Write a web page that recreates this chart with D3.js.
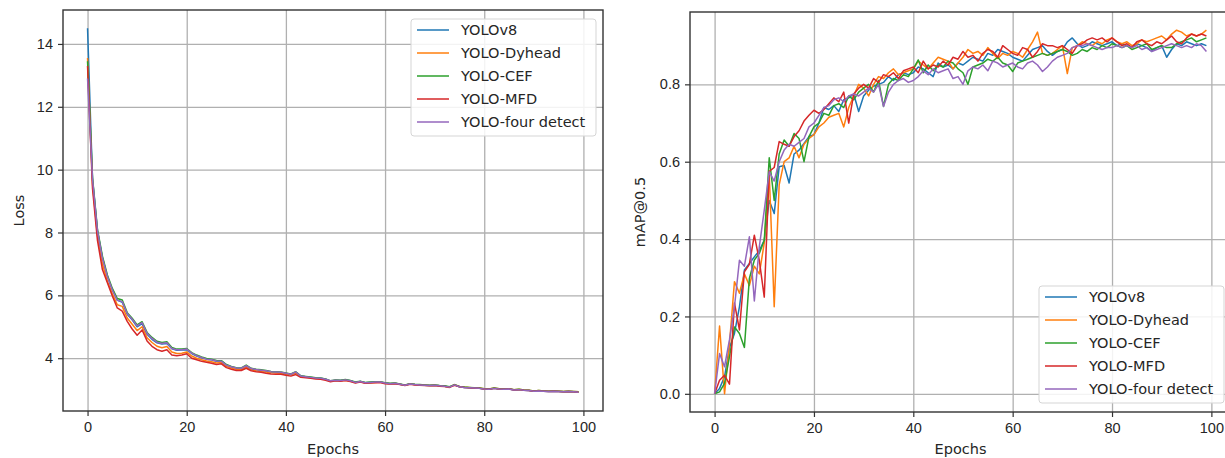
<!DOCTYPE html>
<html>
<head>
<meta charset="utf-8">
<script src="https://cdn.jsdelivr.net/npm/d3@7"></script>
<style>
  body { margin: 0; background: #fff; }
  svg { display: block; font-family: "DejaVu Sans", sans-serif; }
  .grid line { stroke: #b0b0b0; stroke-width: 1.3; }
  .grid path { display: none; }
  .axis text { font-size: 14.5px; fill: #262626; }
  .axis line { stroke: #333; stroke-width: 1.2; }
  .axis path { display: none; }
  .label { font-size: 14.5px; fill: #262626; }
</style>
</head>
<body>
<div id="chart"></div>
<script>
var epochs = d3.range(0, 100);
var names = ["YOLOv8", "YOLO-Dyhead", "YOLO-CEF", "YOLO-MFD", "YOLO-four detect"];
var colors = ["#1f77b4", "#ff7f0e", "#2ca02c", "#d62728", "#9467bd"];
var xTicks = [0, 20, 40, 60, 80, 100];
var lossTicks = [4, 6, 8, 10, 12, 14];
var mapTicks = [0.0, 0.2, 0.4, 0.6, 0.8];

// loss per epoch
var lossV8 = [14.5, 9.7, 8.05, 7.2, 6.6, 6.18, 5.85, 5.78, 5.4, 5.22, 5.0, 5.1, 4.76, 4.6, 4.49, 4.45, 4.47, 4.3, 4.25, 4.26,
  4.27, 4.15, 4.07, 4.01, 3.97, 3.95, 3.9, 3.9, 3.78, 3.72, 3.68, 3.67, 3.75, 3.66, 3.63, 3.61, 3.59, 3.56, 3.55, 3.54,
  3.51, 3.48, 3.55, 3.43, 3.41, 3.39, 3.37, 3.36, 3.33, 3.27, 3.3, 3.29, 3.31, 3.28, 3.23, 3.26, 3.22, 3.23, 3.24, 3.24,
  3.21, 3.19, 3.2, 3.17, 3.14, 3.18, 3.16, 3.15, 3.14, 3.13, 3.14, 3.12, 3.11, 3.08, 3.15, 3.09, 3.07, 3.06, 3.05, 3.04,
  3.02, 3.01, 3.04, 3.02, 3.01, 3.02, 2.99, 3.0, 2.98, 2.97, 2.95, 2.96, 2.95, 2.94, 2.95, 2.94, 2.93, 2.94, 2.93, 2.92];
var lossDyhead = [13.55, 9.55, 7.9, 7.0, 6.45, 6.05, 5.7, 5.65, 5.28, 5.08, 4.88, 5.0, 4.65, 4.5, 4.38, 4.33, 4.37, 4.2, 4.15, 4.16,
  4.2, 4.07, 4.0, 3.95, 3.91, 3.89, 3.85, 3.86, 3.74, 3.69, 3.65, 3.64, 3.72, 3.63, 3.6, 3.58, 3.56, 3.54, 3.53, 3.52,
  3.49, 3.47, 3.53, 3.42, 3.4, 3.38, 3.36, 3.35, 3.32, 3.27, 3.29, 3.28, 3.3, 3.27, 3.23, 3.25, 3.21, 3.22, 3.23, 3.24,
  3.2, 3.19, 3.2, 3.17, 3.14, 3.18, 3.16, 3.15, 3.14, 3.13, 3.14, 3.12, 3.11, 3.08, 3.16, 3.1, 3.08, 3.07, 3.05, 3.05,
  3.03, 3.02, 3.05, 3.03, 3.02, 3.03, 3.0, 3.01, 2.99, 2.98, 2.96, 2.97, 2.96, 2.95, 2.96, 2.95, 2.94, 2.95, 2.94, 2.93];
var lossCEF = [13.45, 9.75, 8.1, 7.25, 6.65, 6.22, 5.9, 5.85, 5.45, 5.27, 5.06, 5.16, 4.82, 4.66, 4.54, 4.5, 4.52, 4.34, 4.29, 4.29,
  4.31, 4.18, 4.1, 4.04, 3.99, 3.97, 3.93, 3.92, 3.8, 3.74, 3.7, 3.69, 3.78, 3.68, 3.65, 3.63, 3.61, 3.58, 3.57, 3.56,
  3.53, 3.5, 3.57, 3.44, 3.42, 3.4, 3.38, 3.37, 3.34, 3.28, 3.31, 3.3, 3.32, 3.29, 3.24, 3.27, 3.23, 3.24, 3.25, 3.25,
  3.22, 3.2, 3.21, 3.18, 3.15, 3.19, 3.17, 3.16, 3.15, 3.14, 3.15, 3.13, 3.12, 3.09, 3.16, 3.1, 3.08, 3.07, 3.06, 3.05,
  3.03, 3.02, 3.05, 3.03, 3.02, 3.03, 3.0, 3.01, 2.99, 2.98, 2.96, 2.97, 2.96, 2.95, 2.96, 2.95, 2.94, 2.95, 2.94, 2.93];
var lossMFD = [13.3, 9.4, 7.75, 6.82, 6.4, 5.98, 5.6, 5.5, 5.17, 4.93, 4.73, 4.9, 4.55, 4.38, 4.27, 4.22, 4.27, 4.1, 4.08, 4.1,
  4.14, 4.0, 3.95, 3.9, 3.87, 3.84, 3.8, 3.82, 3.7, 3.65, 3.61, 3.61, 3.68, 3.6, 3.57, 3.55, 3.52, 3.5, 3.49, 3.49,
  3.46, 3.43, 3.48, 3.39, 3.38, 3.36, 3.34, 3.33, 3.3, 3.25, 3.28, 3.27, 3.29, 3.26, 3.21, 3.24, 3.2, 3.21, 3.22, 3.23,
  3.19, 3.18, 3.19, 3.16, 3.13, 3.17, 3.15, 3.14, 3.13, 3.12, 3.13, 3.11, 3.1, 3.07, 3.14, 3.09, 3.07, 3.06, 3.04, 3.04,
  3.02, 3.01, 3.04, 3.02, 3.01, 3.02, 2.99, 3.0, 2.98, 2.97, 2.95, 2.96, 2.95, 2.94, 2.95, 2.94, 2.93, 2.94, 2.93, 2.92];
var lossFour = [12.9, 9.7, 8.05, 7.18, 6.6, 6.17, 5.84, 5.8, 5.42, 5.24, 5.03, 5.13, 4.79, 4.63, 4.51, 4.47, 4.49, 4.31, 4.27, 4.27,
  4.29, 4.16, 4.08, 4.02, 3.97, 3.95, 3.91, 3.9, 3.78, 3.73, 3.69, 3.68, 3.76, 3.67, 3.64, 3.62, 3.6, 3.57, 3.56, 3.55,
  3.52, 3.49, 3.56, 3.43, 3.41, 3.39, 3.37, 3.36, 3.33, 3.28, 3.3, 3.29, 3.31, 3.28, 3.23, 3.26, 3.22, 3.23, 3.24, 3.24,
  3.21, 3.19, 3.2, 3.17, 3.14, 3.18, 3.16, 3.15, 3.14, 3.13, 3.14, 3.12, 3.11, 3.08, 3.15, 3.09, 3.07, 3.06, 3.05, 3.04,
  3.02, 3.01, 3.04, 3.02, 3.01, 3.02, 2.99, 3.0, 2.98, 2.97, 2.95, 2.96, 2.95, 2.94, 2.95, 2.94, 2.93, 2.94, 2.93, 2.92];

// mAP@0.5 per epoch
var mapV8 = [0, 0.014, 0.044, 0.12, 0.156, 0.225, 0.32, 0.337, 0.354, 0.37, 0.397, 0.5, 0.466, 0.587, 0.59, 0.545, 0.62, 0.63, 0.647, 0.665,
  0.67, 0.7, 0.74, 0.735, 0.745, 0.73, 0.76, 0.765, 0.775, 0.73, 0.77, 0.785, 0.795, 0.8, 0.805, 0.82, 0.81, 0.825, 0.83, 0.825,
  0.83, 0.845, 0.84, 0.83, 0.82, 0.855, 0.845, 0.85, 0.84, 0.855, 0.85, 0.86, 0.87, 0.865, 0.86, 0.88, 0.875, 0.89, 0.885, 0.88,
  0.87, 0.865, 0.86, 0.875, 0.89, 0.895, 0.9, 0.885, 0.875, 0.885, 0.89, 0.91, 0.92, 0.905, 0.895, 0.9, 0.91, 0.905, 0.9, 0.905,
  0.91, 0.9, 0.905, 0.9, 0.895, 0.905, 0.9, 0.895, 0.885, 0.895, 0.9, 0.87, 0.89, 0.905, 0.9, 0.91, 0.905, 0.9, 0.905, 0.9];
var mapDyhead = [0, 0.175, 0.0, 0.13, 0.29, 0.26, 0.31, 0.28, 0.33, 0.31, 0.39, 0.57, 0.225, 0.54, 0.6, 0.61, 0.64, 0.61, 0.645, 0.66,
  0.67, 0.69, 0.7, 0.715, 0.72, 0.725, 0.69, 0.74, 0.77, 0.8, 0.79, 0.77, 0.8, 0.82, 0.815, 0.83, 0.84, 0.825, 0.83, 0.835,
  0.84, 0.86, 0.85, 0.84, 0.855, 0.87, 0.865, 0.86, 0.84, 0.855, 0.87, 0.89, 0.88, 0.885, 0.875, 0.895, 0.88, 0.867, 0.88, 0.875,
  0.885, 0.88, 0.87, 0.89, 0.91, 0.935, 0.88, 0.875, 0.88, 0.89, 0.9, 0.828, 0.895, 0.9, 0.91, 0.905, 0.9, 0.91, 0.905, 0.915,
  0.92, 0.91, 0.905, 0.91, 0.9, 0.905, 0.915, 0.91, 0.915, 0.92, 0.925, 0.915, 0.93, 0.94, 0.935, 0.925, 0.93, 0.925, 0.93, 0.94];
var mapCEF = [0, 0.005, 0.027, 0.096, 0.173, 0.156, 0.12, 0.298, 0.346, 0.363, 0.397, 0.61, 0.5, 0.62, 0.656, 0.64, 0.673, 0.66, 0.6, 0.665,
  0.69, 0.7, 0.725, 0.72, 0.745, 0.75, 0.74, 0.77, 0.76, 0.78, 0.79, 0.8, 0.78, 0.81, 0.743, 0.8, 0.815, 0.81, 0.825, 0.82,
  0.84, 0.863, 0.83, 0.85, 0.835, 0.85, 0.845, 0.86, 0.855, 0.84, 0.83, 0.8, 0.845, 0.85, 0.855, 0.865, 0.86, 0.87, 0.855, 0.85,
  0.833, 0.855, 0.86, 0.865, 0.87, 0.875, 0.88, 0.875, 0.88, 0.885, 0.89, 0.885, 0.875, 0.88, 0.89, 0.885, 0.895, 0.89, 0.9, 0.895,
  0.905, 0.9, 0.895, 0.9, 0.89, 0.895, 0.9, 0.905, 0.89, 0.895, 0.9, 0.895, 0.895, 0.905, 0.91, 0.915, 0.92, 0.91, 0.915, 0.92];
var mapMFD = [0, 0.035, 0.048, 0.025, 0.235, 0.165, 0.315, 0.335, 0.41, 0.345, 0.25, 0.575, 0.585, 0.652, 0.645, 0.64, 0.665, 0.68, 0.705, 0.72,
  0.733, 0.725, 0.735, 0.75, 0.765, 0.755, 0.78, 0.7, 0.775, 0.79, 0.8, 0.79, 0.815, 0.805, 0.825, 0.82, 0.83, 0.815, 0.835, 0.84,
  0.845, 0.83, 0.86, 0.84, 0.85, 0.845, 0.86, 0.85, 0.87, 0.865, 0.885, 0.87, 0.875, 0.86, 0.88, 0.89, 0.885, 0.87, 0.9, 0.89,
  0.88, 0.875, 0.895, 0.89, 0.87, 0.885, 0.905, 0.9, 0.9, 0.895, 0.9, 0.89, 0.88, 0.9, 0.905, 0.915, 0.92, 0.915, 0.92, 0.91,
  0.92, 0.91, 0.9, 0.905, 0.895, 0.91, 0.915, 0.905, 0.9, 0.91, 0.905, 0.915, 0.925, 0.91, 0.905, 0.92, 0.93, 0.925, 0.93, 0.925];
var mapFour = [0, 0.104, 0.07, 0.14, 0.225, 0.345, 0.33, 0.406, 0.24, 0.38, 0.475, 0.574, 0.55, 0.6, 0.63, 0.645, 0.64, 0.65, 0.66, 0.69,
  0.7, 0.72, 0.74, 0.745, 0.76, 0.765, 0.755, 0.77, 0.775, 0.77, 0.78, 0.79, 0.78, 0.8, 0.743, 0.78, 0.8, 0.81, 0.815, 0.805,
  0.81, 0.82, 0.835, 0.825, 0.84, 0.83, 0.835, 0.84, 0.815, 0.82, 0.8, 0.835, 0.845, 0.84, 0.85, 0.835, 0.86, 0.855, 0.845, 0.85,
  0.855, 0.845, 0.84, 0.855, 0.86, 0.85, 0.833, 0.845, 0.86, 0.87, 0.875, 0.88, 0.895, 0.9, 0.9, 0.905, 0.9, 0.895, 0.89, 0.895,
  0.895, 0.9, 0.895, 0.9, 0.895, 0.9, 0.89, 0.895, 0.885, 0.89, 0.895, 0.9, 0.905, 0.9, 0.895, 0.9, 0.895, 0.905, 0.9, 0.885];

var lossSeries = [lossV8, lossDyhead, lossCEF, lossMFD, lossFour];
var mapSeries = [mapV8, mapDyhead, mapCEF, mapMFD, mapFour];

var w = 1225, h = 458;
var svg = d3.select("#chart").append("svg").attr("width", w).attr("height", h);

function panel(opt) {
    var x = d3.scaleLinear().domain([-4.95, 103.95]).range([opt.left, opt.right]);
    var y = d3.scaleLinear().domain(opt.yDomain).range([opt.bottom, opt.top]);
    var g = svg.append("g");

    // grid
    g.append("g").attr("class", "grid")
        .attr("transform", "translate(0," + opt.bottom + ")")
        .call(d3.axisBottom(x).tickValues(xTicks).tickSize(-(opt.bottom - opt.top)).tickFormat(""));
    g.append("g").attr("class", "grid")
        .attr("transform", "translate(" + opt.left + ",0)")
        .call(d3.axisLeft(y).tickValues(opt.yTicks).tickSize(-(opt.right - opt.left)).tickFormat(""));

    // lines
    var line = d3.line().x((d, i) => x(epochs[i])).y(d => y(d));
    var clipId = "clip" + opt.left;
    svg.append("clipPath").attr("id", clipId).append("rect")
        .attr("x", opt.left).attr("y", opt.top).attr("width", opt.right - opt.left).attr("height", opt.bottom - opt.top);
    g.append("g").attr("clip-path", "url(#" + clipId + ")")
        .selectAll("path").data(opt.series).enter().append("path")
        .attr("d", d => line(d))
        .attr("fill", "none")
        .attr("stroke", (d, i) => colors[i])
        .attr("stroke-width", 1.5)
        .attr("stroke-linejoin", "round");

    // frame
    g.append("rect")
        .attr("x", opt.left).attr("y", opt.top)
        .attr("width", opt.right - opt.left).attr("height", opt.bottom - opt.top)
        .attr("fill", "none").attr("stroke", "#333").attr("stroke-width", 1.4);

    // axes
    g.append("g").attr("class", "axis")
        .attr("transform", "translate(0," + opt.bottom + ")")
        .call(d3.axisBottom(x).tickValues(xTicks).tickSize(5).tickPadding(6).tickFormat(d3.format("d")));
    g.append("g").attr("class", "axis")
        .attr("transform", "translate(" + opt.left + ",0)")
        .call(d3.axisLeft(y).tickValues(opt.yTicks).tickSize(5).tickPadding(5).tickFormat(opt.fmt));

    g.append("text").attr("class", "label")
        .attr("x", (opt.left + opt.right) / 2).attr("y", 454)
        .attr("text-anchor", "middle").text("Epochs");
    g.append("text").attr("class", "label")
        .attr("transform", "translate(" + opt.yLabelX + "," + (opt.top + opt.bottom) / 2 + ") rotate(-90)")
        .attr("text-anchor", "middle").text(opt.yLabel);

    // legend
    var lg = g.append("g").attr("transform", "translate(" + opt.legX + "," + opt.legY + ")");
    lg.append("rect").attr("width", 185).attr("height", 117).attr("rx", 3)
        .attr("fill", "#fff").attr("fill-opacity", 0.85)
        .attr("stroke", "#d5d5d5").attr("stroke-width", 1);
    names.forEach(function (n, i) {
        var yy = 11 + i * 23;
        lg.append("line").attr("x1", 6).attr("x2", 38).attr("y1", yy).attr("y2", yy)
            .attr("stroke", colors[i]).attr("stroke-width", 1.5);
        lg.append("text").attr("class", "label").attr("x", 50).attr("y", yy + 5).text(n);
    });
}

panel({
    left: 63, right: 603, top: 10, bottom: 411,
    yDomain: [2.32, 15.08], yTicks: lossTicks, fmt: d3.format("d"),
    series: lossSeries, yLabel: "Loss", yLabelX: 24,
    legX: 411, legY: 19
});

panel({
    left: 690, right: 1231, top: 12, bottom: 412,
    yDomain: [-0.047, 0.987], yTicks: mapTicks, fmt: d3.format(".1f"),
    series: mapSeries, yLabel: "mAP@0.5", yLabelX: 645,
    legX: 1039, legY: 286
});
</script>
</body>
</html>
